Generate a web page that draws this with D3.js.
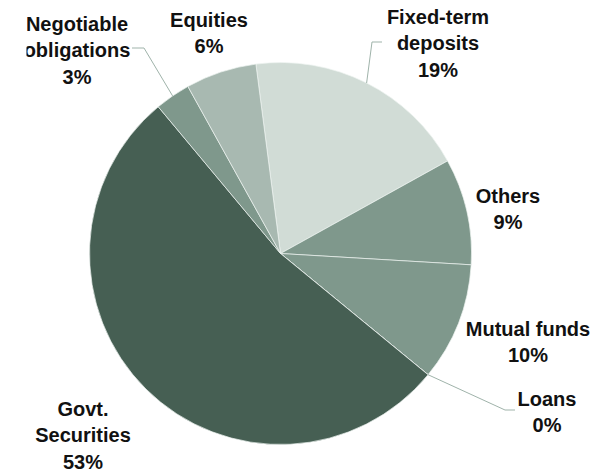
<!DOCTYPE html>
<html>
<head>
<meta charset="utf-8">
<script src="https://cdn.jsdelivr.net/npm/d3@7"></script>
<style>
  html, body { margin: 0; padding: 0; background: #fff; }
  svg { display: block; }
  text { font-family: "Liberation Sans", Arial, sans-serif; font-weight: bold; fill: #111; }
</style>
</head>
<body>
<svg id="chart" width="603" height="472"></svg>
<script>
// Portfolio composition, clockwise from the top
const categories = ["Fixed-term deposits", "Others", "Mutual funds", "Loans", "Govt. Securities", "Negotiable obligations", "Equities"];
const shares = [19, 9, 10, 0, 53, 3, 6];
const labelLines = [
  ["Fixed-term", "deposits"],
  ["Others"],
  ["Mutual funds"],
  ["Loans"],
  ["Govt.", "Securities"],
  ["Negotiable", "obligations"],
  ["Equities"]
];

const colors = ["#d1dcd6", "#7f988c", "#7f988c", "#7f988c", "#465f53", "#7f988c", "#a8b9b1"];

// label anchor (centre x, first baseline y) and leader-line routing
const labelLayout = [
  { x: 438, y: 24, leader: [[382, 42], [372, 42]] },
  { x: 508, y: 203 },
  { x: 528, y: 336 },
  { x: 547, y: 406, leader: [[515, 410], [505, 410]] },
  { x: 83, y: 416 },
  { x: 77, y: 31, leader: [[132, 48], [144, 48]], clipLeft: 26.5 },
  { x: 209, y: 27 }
];

const cx = 280.5, cy = 253.5, radius = 191;
const startDeg = -7.4;
const lineHeight = 26.3;

const svg = d3.select("#chart");

const pie = d3.pie().sort(null).value(d => d)
  .startAngle(startDeg * Math.PI / 180)
  .endAngle((startDeg + 360) * Math.PI / 180);
const arcs = pie(shares);

const arc = d3.arc().innerRadius(0).outerRadius(radius);

const g = svg.append("g").attr("transform", `translate(${cx},${cy})`);

g.selectAll("path.slice")
  .data(arcs)
  .enter().append("path")
  .attr("class", "slice")
  .attr("d", arc)
  .attr("fill", (d, i) => colors[i])
  .attr("stroke", "#eef3f0")
  .attr("stroke-width", 0.7)
  .attr("stroke-linejoin", "round");

// leader lines: from the slice's mid-angle on the rim to the label
arcs.forEach((d, i) => {
  const lay = labelLayout[i];
  if (!lay.leader) return;
  const mid = (d.startAngle + d.endAngle) / 2;
  const rim = [cx + radius * Math.sin(mid), cy - radius * Math.cos(mid)];
  const pts = [rim, ...lay.leader.slice().reverse()];
  svg.append("path")
    .attr("d", d3.line()(pts))
    .attr("fill", "none")
    .attr("stroke", "#9fb3aa")
    .attr("stroke-width", 1);
});

// labels: name lines followed by the percentage
const defs = svg.append("defs");
arcs.forEach((d, i) => {
  const lay = labelLayout[i];
  const lines = labelLines[i].concat([d3.format(".0f")(shares[i]) + "%"]);
  const t = svg.append("text")
    .attr("text-anchor", "middle")
    .attr("font-size", 20);
  if (lay.clipLeft !== undefined) {
    const id = "clip" + i;
    defs.append("clipPath").attr("id", id)
      .append("rect").attr("x", lay.clipLeft).attr("y", 0).attr("width", 603).attr("height", 472);
    t.attr("clip-path", `url(#${id})`);
  }
  lines.forEach((s, k) => {
    t.append("tspan").attr("x", lay.x).attr("y", lay.y + k * lineHeight).text(s);
  });
});
</script>
</body>
</html>
